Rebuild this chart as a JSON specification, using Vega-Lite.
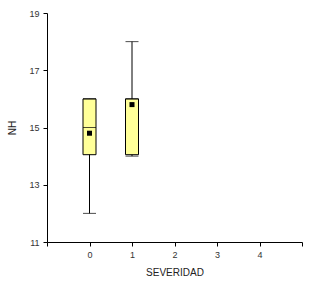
{
  "$schema": "https://vega.github.io/schema/vega-lite/v6.json",
  "autosize": {"type": "none"},
  "padding": {"left": 47, "top": 13, "right": 18, "bottom": 55},
  "width": 255,
  "height": 229,
  "background": "white",
  "config": {
    "view": {"stroke": null},
    "font": "Liberation Sans",
    "axis": {
      "grid": false,
      "domainColor": "black",
      "tickColor": "black",
      "labelColor": "#333333",
      "titleColor": "#222222",
      "labelFontSize": 9,
      "titleFontSize": 10,
      "titleFontWeight": "normal",
      "tickSize": 4,
      "labelPadding": 4
    }
  },
  "data": {
    "values": [
      {"sev": 0, "min": 12, "q1": 14.05, "median": 15, "q3": 16, "max": 16, "mean": 14.8},
      {"sev": 1, "min": 14, "q1": 14.05, "median": 16, "q3": 16, "max": 18, "mean": 15.8}
    ]
  },
  "encoding": {
    "x": {
      "field": "sev", "type": "quantitative", "title": "SEVERIDAD",
      "scale": {"domain": [-1, 5], "nice": false, "zero": false, "padding": 0},
      "axis": {"values": [-1, 0, 1, 2, 3, 4, 5], "labelExpr": "datum.value < 0 || datum.value > 4 ? '' : datum.label", "titlePadding": 8}
    }
  },
  "layer": [
    {
      "mark": {"type": "rule", "color": "black", "strokeWidth": 1},
      "encoding": {
        "y": {"field": "min", "type": "quantitative", "title": "NH",
          "scale": {"domain": [11, 19], "nice": false, "zero": false, "padding": 0},
          "axis": {"values": [11, 13, 15, 17, 19], "titlePadding": 11}},
        "y2": {"field": "max"}
      }
    },
    {
      "mark": {"type": "bar", "width": 13, "fill": "#FFFF99", "stroke": "black", "strokeWidth": 1},
      "encoding": {
        "y": {"field": "q1", "type": "quantitative"},
        "y2": {"field": "q3"}
      }
    },
    {
      "mark": {"type": "tick", "orient": "horizontal", "size": 13, "thickness": 1, "color": "black"},
      "encoding": {"y": {"field": "median", "type": "quantitative"}}
    },
    {
      "mark": {"type": "tick", "orient": "horizontal", "size": 13, "thickness": 1, "color": "black"},
      "encoding": {"y": {"field": "min", "type": "quantitative"}}
    },
    {
      "mark": {"type": "tick", "orient": "horizontal", "size": 13, "thickness": 1, "color": "black"},
      "encoding": {"y": {"field": "max", "type": "quantitative"}}
    },
    {
      "mark": {"type": "point", "shape": "square", "filled": true, "color": "black", "size": 25, "opacity": 1},
      "encoding": {"y": {"field": "mean", "type": "quantitative"}}
    }
  ]
}
